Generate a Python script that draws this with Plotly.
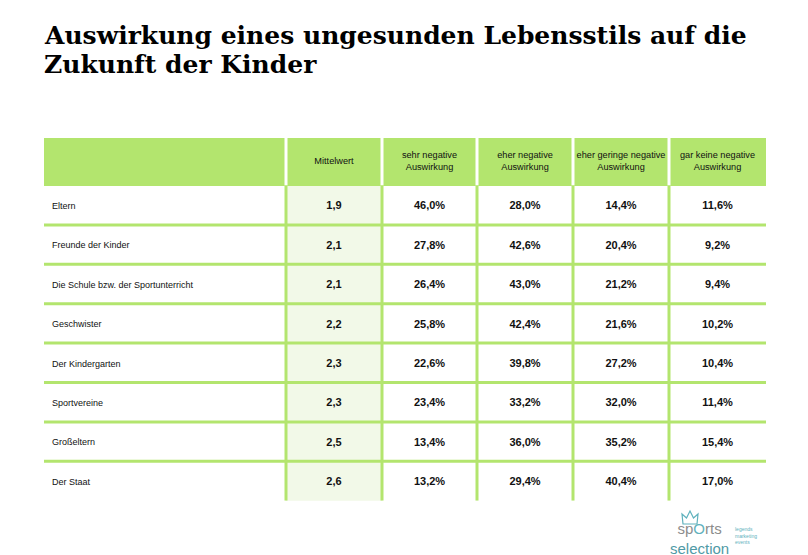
import plotly.graph_objects as go

title_lines = ["Auswirkung eines ungesunden Lebensstils auf die", "Zukunft der Kinder"]
columns = ["", "Mittelwert", "sehr negative<br>Auswirkung", "eher negative<br>Auswirkung",
           "eher geringe negative<br>Auswirkung", "gar keine negative<br>Auswirkung"]
categories = ["Eltern", "Freunde der Kinder", "Die Schule bzw. der Sportunterricht", "Geschwister",
              "Der Kindergarten", "Sportvereine", "Großeltern", "Der Staat"]
mittelwert = [1.9, 2.1, 2.1, 2.2, 2.3, 2.3, 2.5, 2.6]
sehr_negativ = [46.0, 27.8, 26.4, 25.8, 22.6, 23.4, 13.4, 13.2]
eher_negativ = [28.0, 42.6, 43.0, 42.4, 39.8, 33.2, 36.0, 29.4]
eher_gering = [14.4, 20.4, 21.2, 21.6, 27.2, 32.0, 35.2, 40.4]
gar_keine = [11.6, 9.2, 9.4, 10.2, 10.4, 11.4, 15.4, 17.0]

GREEN = "#b3e56e"
LIGHT = "#f2f9e8"
TEAL = "#4f9aa6"
SANS = "Liberation Sans, Arial, sans-serif"

def de(v, pct=False):
    s = f"{v:.1f}".replace(".", ",")
    return s + "%" if pct else s

# ---- layout geometry (pixels) ----
W, H = 808, 555
X0, Y0 = 44, 138                       # table top-left on the page
col_widths = [242, 96, 95, 96, 96, 97]
header_h = 47.5
row_h = 39.4
n_rows = len(categories)
text_dy = 1.5                          # optical nudge for body text

col_edges = [0]
for w in col_widths:
    col_edges.append(col_edges[-1] + w)
row_edges = [0, header_h] + [header_h + row_h * (i + 1) for i in range(n_rows)]
TW, TH = col_edges[-1], row_edges[-1]
col_mid = [(col_edges[i] + col_edges[i + 1]) / 2 for i in range(len(col_widths))]
row_mid = [(row_edges[i] + row_edges[i + 1]) / 2 for i in range(len(row_edges) - 1)]
body_y = [y + text_dy for y in row_mid[1:]]

# cell fill codes: 2 = header green, 1 = light green (Mittelwert), 0 = white
z = [[2] * len(col_widths)] + [[0, 1, 0, 0, 0, 0] for _ in categories]

fig = go.Figure()
fig.add_trace(go.Heatmap(
    x=col_edges, y=row_edges, z=z, zmin=0, zmax=2,
    colorscale=[[0, "white"], [0.5, LIGHT], [1, GREEN]],
    showscale=False, hoverinfo="skip",
))

# header texts
fig.add_trace(go.Scatter(
    x=col_mid[1:], y=[row_mid[0]] * 5, text=columns[1:], mode="text",
    textposition="middle center", hoverinfo="skip",
    textfont=dict(family=SANS, size=9.2, color="#111"),
))
# row labels
fig.add_trace(go.Scatter(
    x=[col_edges[0] + 8] * n_rows, y=body_y, text=categories, mode="text",
    textposition="middle right", hoverinfo="skip",
    textfont=dict(family=SANS, size=9, color="#111"),
))
# values
value_cols = [
    [de(v) for v in mittelwert],
    [de(v, True) for v in sehr_negativ],
    [de(v, True) for v in eher_negativ],
    [de(v, True) for v in eher_gering],
    [de(v, True) for v in gar_keine],
]
for j, vals in enumerate(value_cols, start=1):
    fig.add_trace(go.Scatter(
        x=[col_mid[j]] * n_rows, y=body_y, text=[f"<b>{t}</b>" for t in vals],
        mode="text", textposition="middle center", hoverinfo="skip",
        textfont=dict(family=SANS, size=11, color="#111"),
    ))

# grid lines
for xe in col_edges[1:-1]:
    # white gaps between header cells
    fig.add_shape(type="line", x0=xe, x1=xe, y0=0, y1=header_h,
                  line=dict(color="white", width=3), layer="above")
    # green vertical separators in the body
    fig.add_shape(type="line", x0=xe, x1=xe, y0=header_h, y1=TH,
                  line=dict(color=GREEN, width=3), layer="above")
for ye in row_edges[2:-1]:
    fig.add_shape(type="line", x0=0, x1=TW, y0=ye, y1=ye,
                  line=dict(color=GREEN, width=3), layer="above")

fig.update_layout(
    width=W, height=H,
    margin=dict(l=0, r=0, t=0, b=0),
    paper_bgcolor="white",
    plot_bgcolor="white",
    showlegend=False,
    xaxis=dict(range=[0, TW], domain=[X0 / W, (X0 + TW) / W], visible=False, fixedrange=True),
    yaxis=dict(range=[TH, 0], domain=[1 - (Y0 + TH) / H, 1 - Y0 / H], visible=False, fixedrange=True),
)

# Title (two lines placed separately for tight line spacing)
for i, line in enumerate(title_lines):
    fig.add_annotation(
        text="<b>" + line + "</b>",
        xref="paper", yref="paper", x=(X0 - 2) / W, y=1 - (35 + 29 * i) / H,
        xanchor="left", yanchor="middle", align="left", showarrow=False,
        font=dict(family="DejaVu Serif, Liberation Serif, serif", size=25, color="black"),
    )

# Logo
fig.add_shape(type="path", xref="paper", yref="paper", layer="above",
              path=" ".join([
                  f"M {683/W} {1-524/H}", f"L {682/W} {1-514/H}", f"L {686.5/W} {1-518/H}",
                  f"L {690/W} {1-511/H}", f"L {693.5/W} {1-518/H}", f"L {698/W} {1-514/H}",
                  f"L {697/W} {1-524/H}", "Z"]),
              line=dict(color="#5fb2bd", width=1.2), fillcolor="rgba(0,0,0,0)")
fig.add_annotation(text="sp<span style='color:#5fb2bd'>O</span>rts<br><span style='color:%s'>selection</span>" % TEAL,
                   xref="paper", yref="paper", x=699 / W, y=1 - 538 / H, showarrow=False,
                   xanchor="center", yanchor="middle", align="center",
                   font=dict(family=SANS, size=15, color="#8c8c8c"))
fig.add_annotation(text="legends<br>marketing<br>events", xref="paper", yref="paper",
                   x=733 / W, y=1 - 535 / H, xanchor="left", yanchor="middle", align="left",
                   showarrow=False,
                   font=dict(family=SANS, size=5, color="#5fb2bd"))

fig.write_html("out.html", config={"displayModeBar": False, "staticPlot": True},
               post_script="document.body.style.margin='0';document.body.style.overflow='hidden';")
